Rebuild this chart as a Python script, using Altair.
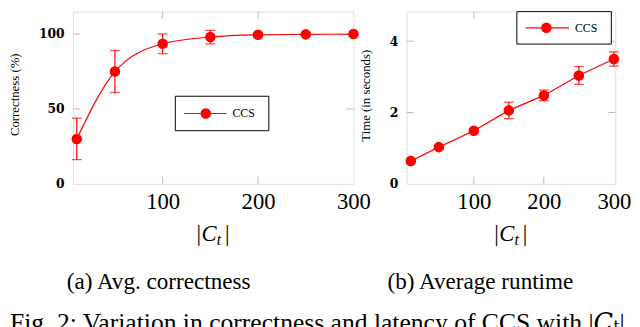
import altair as alt
import pandas as pd

# ---- data ----
ct_values = [10, 50, 100, 150, 200, 250, 300]
correctness = [30, 75, 93.5, 98.0, 99.5, 99.8, 100]
correctness_err = [13.8, 14, 6.6, 4.5, 1.5, 0.5, 0.2]
runtime = [0.64, 1.03, 1.49, 2.06, 2.48, 3.04, 3.5]
runtime_err = [0.05, 0.05, 0.05, 0.23, 0.15, 0.25, 0.2]
x_tick_values = [100, 200, 300]
corr_tick_values = [0, 50, 100]
time_tick_values = [0, 2, 4]
inner_x_ticks = [100, 200]
corr_inner_y_ticks = [50, 100]
time_inner_y_ticks = [2, 4]
series_name = "CCS"

H = 175
RED = "#ff0000"
GRAY = "#b8b8b8"
SERIF = "'Liberation Serif', 'Times New Roman', Times, 'DejaVu Serif', serif"
dummy = pd.DataFrame({"d": [0]})


def txt(text, x, y, size=23, style="normal", align="left", baseline="alphabetic"):
    return alt.Chart(dummy).mark_text(
        text=text, align=align, baseline=baseline, font=SERIF,
        fontSize=size, fontStyle=style, color="black",
    ).encode(x=alt.value(x), y=alt.value(y))


def ct_label(cx, by):
    return [
        txt("|", cx - 17, by),
        txt("C", cx - 12, by, style="italic"),
        txt("t", cx + 3.5, by + 4, size=16, style="italic"),
        txt("|", cx + 12, by),
    ]


def panel(vals, errs, W, xdomain, ydomain, yticks, ytitle, inner_y, interp,
          box, caption, cap_x, title_y, extra=None):
    df = pd.DataFrame({
        "x": ct_values,
        "y": vals,
        "lo": [v - e for v, e in zip(vals, errs)],
        "hi": [v + e for v, e in zip(vals, errs)],
    })
    xs = alt.Scale(domain=xdomain, nice=False, zero=False)
    ys = alt.Scale(domain=ydomain, nice=False, zero=False)
    xaxis = alt.Axis(values=x_tick_values, title=None, grid=False, domain=False,
                     ticks=False, tickSize=0, labelFont=SERIF,
                     labelFontSize=23, labelPadding=7, labelFlush=False,
                     labelOverlap=False, labelColor="black")
    yaxis = alt.Axis(values=yticks, title=ytitle, grid=False, domain=False,
                     ticks=False, tickSize=0, labelFont="DejaVu Serif",
                     labelFontWeight="bold", labelFontSize=12.5, labelPadding=9,
                     labelFlush=False, labelOverlap=False, labelColor="black",
                     titleFont=SERIF, titleFontSize=13, titleY=title_y,
                     titleFontWeight="normal", titlePadding=17, titleColor="black")

    def X(f):
        return alt.X(f, type="quantitative", scale=xs, axis=xaxis)

    def Y(f):
        return alt.Y(f, type="quantitative", scale=ys, axis=yaxis)

    gx = pd.DataFrame({"t": inner_x_ticks})
    gy = pd.DataFrame({"t": inner_y})
    layers = [
        alt.Chart(gx).mark_rule(color=GRAY).encode(x=X("t"), y=alt.value(0), y2=alt.value(7)),
        alt.Chart(gx).mark_rule(color=GRAY).encode(x=X("t"), y=alt.value(H - 7), y2=alt.value(H)),
        alt.Chart(gy).mark_rule(color=GRAY).encode(y=Y("t"), x=alt.value(0), x2=alt.value(7)),
        alt.Chart(gy).mark_rule(color=GRAY).encode(y=Y("t"), x=alt.value(W - 7), x2=alt.value(W)),
        alt.Chart(df).mark_rule(color=RED, strokeWidth=1.2).encode(x=X("x"), y=Y("lo"), y2="hi"),
        alt.Chart(df).mark_tick(color=RED, orient="horizontal", size=10, thickness=1.3).encode(x=X("x"), y=Y("lo")),
        alt.Chart(df).mark_tick(color=RED, orient="horizontal", size=10, thickness=1.3).encode(x=X("x"), y=Y("hi")),
        alt.Chart(df).mark_line(color=RED, strokeWidth=1.2, interpolate=interp).encode(x=X("x"), y=Y("y")),
        alt.Chart(df).mark_circle(color=RED, size=115, opacity=1).encode(x=X("x"), y=Y("y")),
    ]
    bx0, bx1, by0, by1, lx0, lx1, mx, tx = box
    ly = (by0 + by1) / 2
    layers += [
        alt.Chart(dummy).mark_rect(fill="white", stroke="black", strokeWidth=1).encode(
            x=alt.value(bx0), x2=alt.value(bx1), y=alt.value(by0), y2=alt.value(by1)),
        alt.Chart(dummy).mark_rule(color=RED, strokeWidth=1.2).encode(
            x=alt.value(lx0), x2=alt.value(lx1), y=alt.value(ly)),
        alt.Chart(dummy).mark_circle(color=RED, size=115, opacity=1).encode(
            x=alt.value(mx), y=alt.value(ly)),
        txt(series_name, tx, ly, size=12, baseline="middle"),
    ]
    layers += ct_label(W / 2, 233)
    layers.append(txt(caption, cap_x, 282, size=23.5, align="center"))
    if extra is not None:
        layers += extra
    return alt.layer(*layers).properties(width=W, height=H)


fig_caption = "Fig. 2: Variation in correctness and latency of CCS with |\U0001D436\u209C|"

left = panel(correctness, correctness_err, 285, [6, 300], [0, 115], corr_tick_values,
             "Correctness (%)", corr_inner_y_ticks, "monotone",
             (104, 199, 86, 121, 113, 156, 135, 162), "(a) Avg. correctness", 87, 84,
             extra=[txt(fig_caption, -64, 325, size=26)])
right = panel(runtime, runtime_err, 212, [4, 302], [0, 4.83], time_tick_values,
              "Time (in seconds)", time_inner_y_ticks, "linear",
              (112, 208, 0, 33, 121, 165, 142, 171), "(b) Average runtime", 75, 85)

chart = alt.hconcat(left, right, spacing=54, bounds="flush").properties(
    padding={"left": 0, "top": 0, "right": 0, "bottom": 0}
).configure_view(stroke="black", strokeWidth=1).configure(background="white")

chart.save("out.html", embed_options={"renderer": "svg", "actions": False})
